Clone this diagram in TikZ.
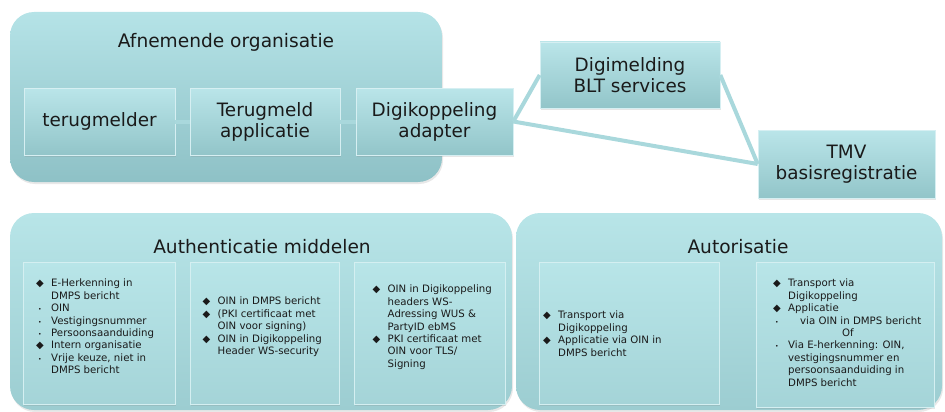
\documentclass[tikz,border=0pt]{standalone}
\usepackage{fontspec}
\setmainfont{DejaVu Sans}
\usetikzlibrary{shadows}

\definecolor{boxtop}{HTML}{BAE5E9}
\definecolor{boxbot}{HTML}{92C5C9}
\definecolor{outtop}{HTML}{B5E3E7}
\definecolor{outbot}{HTML}{8EC1C6}
\definecolor{lowtop}{HTML}{B8E5E8}
\definecolor{lowbot}{HTML}{9CCDD1}
\definecolor{linkcol}{HTML}{A9D8DC}
\definecolor{inktext}{HTML}{1A1A1A}

\newcommand\dia{\makebox[15pt][l]{\fontsize{10}{10}\selectfont ◆}}
\newcommand\dotb{\makebox[15pt][l]{\hspace{2pt}\fontsize{6}{6}\selectfont •}}
\newcommand\gap{\hspace*{15pt}}

\begin{document}
\begin{tikzpicture}[x=1pt,y=-1pt,
  outer/.style={rectangle,rounded corners=24pt,top color=outtop,bottom color=outbot,
    drop shadow={opacity=0.18,shadow xshift=1pt,shadow yshift=-2pt}},
  lower/.style={outer,top color=lowtop,bottom color=lowbot},
  unit/.style={rectangle,top color=boxtop,bottom color=boxbot,draw=white!40!boxtop,
    line width=0.6pt,text=inktext,align=center,font=\fontsize{18.4}{21}\selectfont,
    drop shadow={opacity=0.2,shadow xshift=1pt,shadow yshift=-1.5pt}},
  panel/.style={rectangle,top color=lowtop,bottom color=lowbot!70!lowtop,draw=white!40!lowtop,
    line width=0.6pt,drop shadow={opacity=0.2,shadow xshift=1pt,shadow yshift=-1.5pt}},
  heading/.style={text=inktext,font=\fontsize{18.6}{21}\selectfont},
  list/.style={anchor=north west,inner sep=0pt,align=left,text=inktext,
    font=\fontsize{10.2}{12.4}\selectfont},
  link/.style={draw=linkcol,line width=4pt}]
  \useasboundingbox (0,0) rectangle (945,412);

  \node[outer,minimum width=432pt,minimum height=170pt] (afnemer) at (226,97) {};
  \node[heading] (afnemertitel) at (226,42) {Afnemende organisatie};

  \node[unit,minimum width=151pt,minimum height=67pt] (melder) at (99.5,121.5) {terugmelder};
  \node[unit,minimum width=150pt,minimum height=67pt] (applicatie) at (265,121.5) {Terugmeld\\applicatie};
  \node[unit,minimum width=157pt,minimum height=67pt] (adapter) at (434.5,121.5) {Digikoppeling\\adapter};
  \node[unit,minimum width=180pt,minimum height=66pt] (blt) at (630,75) {Digimelding\\BLT services};
  \node[unit,minimum width=177pt,minimum height=68pt] (tmv) at (846.5,164) {TMV\\basisregistratie};

  \draw[link] (melder) -- (applicatie);
  \draw[link] (applicatie) -- (adapter);
  \draw[link] (adapter.east) -- (blt.west);
  \draw[link] (blt.east) -- (tmv.west);
  \draw[link] (adapter.east) -- (tmv.west);

  \node[lower,minimum width=502pt,minimum height=197pt] (authent) at (261,311.5) {};
  \node[heading] (authtitel) at (262,247) {Authenticatie middelen};
  \node[lower,minimum width=426pt,minimum height=197pt] (autor) at (729,311.5) {};
  \node[heading] (autortitel) at (738,247) {Autorisatie};

  \node[panel,minimum width=152pt,minimum height=142pt] (vak1) at (99,333) {};
  \node[panel,minimum width=149pt,minimum height=142pt] (vak2) at (264.5,333) {};
  \node[panel,minimum width=151pt,minimum height=142pt] (vak3) at (429.5,333) {};
  \node[panel,minimum width=180pt,minimum height=142pt] (vak4) at (629,333) {};
  \node[panel,minimum width=178pt,minimum height=145pt] (vak5) at (845,334.5) {};

  \node[list] (tekst1) at (36,279) {\dia E-Herkenning in\\\gap DMPS bericht\\
    \dotb OIN\\\dotb Vestigingsnummer\\\dotb Persoonsaanduiding\\
    \dia Intern organisatie\\\dotb Vrije keuze, niet in\\\gap DMPS bericht};
  \node[list] (tekst2) at (202.5,297) {\dia OIN in DMPS bericht\\\dia (PKI certificaat met\\
    \gap OIN voor signing)\\\dia OIN in Digikoppeling\\\gap Header WS-security};
  \node[list] (tekst3) at (372.5,285) {\dia OIN in Digikoppeling\\\gap headers WS-\\
    \gap Adressing WUS \&\\\gap PartyID ebMS\\\dia PKI certificaat met\\
    \gap OIN voor TLS/\\\gap Signing};
  \node[list] (tekst4) at (543,311) {\dia Transport via\\\gap Digikoppeling\\
    \dia Applicatie via OIN in\\\gap DMPS bericht};
  \node[list] (tekst5) at (773,279) {\dia Transport via\\\gap Digikoppeling\\
    \dia Applicatie\\\dotb\hspace*{12pt}via OIN in DMPS bericht\\
    \hspace*{69pt}Of\\\dotb Via E-herkenning: OIN,\\\gap vestigingsnummer en\\
    \gap persoonsaanduiding in\\\gap DMPS bericht};
\end{tikzpicture}
\end{document}
